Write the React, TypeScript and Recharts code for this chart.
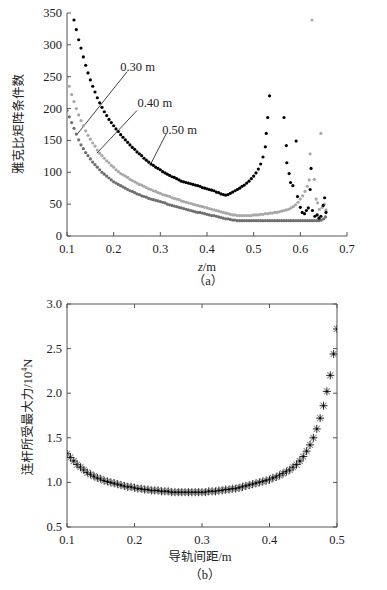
import React from 'react';
import { ScatterChart, Scatter, XAxis, YAxis, ReferenceLine, ReferenceDot } from 'recharts';

// ---- (a) Jacobian condition number vs z, three rail gaps ----
const zGrid = [
  0.100, 0.105, 0.110, 0.115, 0.120, 0.125, 0.130, 0.135, 0.140, 0.145,
  0.150, 0.155, 0.160, 0.165, 0.170, 0.175, 0.180, 0.185, 0.190, 0.195,
  0.200, 0.205, 0.210, 0.215, 0.220, 0.225, 0.230, 0.235, 0.240, 0.245,
  0.250, 0.255, 0.260, 0.265, 0.270, 0.275, 0.280, 0.285, 0.290, 0.295,
  0.300, 0.305, 0.310, 0.315, 0.320, 0.325, 0.330, 0.335, 0.340, 0.345,
  0.350, 0.355, 0.360, 0.365, 0.370, 0.375, 0.380, 0.385, 0.390, 0.395,
  0.400, 0.405, 0.410, 0.415, 0.420, 0.425, 0.430, 0.435, 0.440, 0.445,
  0.450, 0.455, 0.460, 0.465, 0.470, 0.475, 0.480, 0.485, 0.490, 0.495,
  0.500, 0.505, 0.510, 0.515, 0.520, 0.525, 0.530, 0.535, 0.540, 0.545,
  0.550, 0.555, 0.560, 0.565, 0.570, 0.575, 0.580, 0.585, 0.590, 0.595,
  0.600, 0.605, 0.610, 0.615, 0.620, 0.625, 0.630, 0.635, 0.640, 0.645,
];

const cond030 = [
  null, null, null, 339, 324, 308, 295, 281, 268, 256,
  245, 235, 226, 217, 209, 202, 195, 189, 183, 178,
  173, 168, 164, 159, 155, 151, 147, 143, 139, 136,
  132, 129, 126, 122, 119, 116, 113, 111, 108, 106,
  104, 101, 99, 97, 95, 93, 92, 90, 88, 86,
  85, 84, 83, 82, 81, 80, 79, 78, 76, 75,
  74, 73, 72, 71, 69, 68, 66, 65, 64, 65,
  67, 69, 71, 73, 75, 78, 80, 83, 86, 90,
  94, 99, 105, 113, 124, null, null, null, null, null,
  null, null, null, null, null, null, null, null, null, null,
  null, null, null, null, null, null, null, null, null, null,
];

const cond040 = [
  248, 235, 222, 211, 200, 190, 181, 173, 165, 158,
  152, 146, 141, 135, 130, 126, 122, 118, 115, 111,
  108, 104, 101, 98, 96, 94, 92, 89, 87, 85,
  83, 81, 80, 78, 76, 74, 73, 71, 70, 68,
  67, 65, 64, 63, 62, 60, 59, 58, 57, 55,
  54, 53, 52, 51, 50, 49, 48, 47, 46, 45,
  44, 43, 42, 41, 40, 39, 38, 37, 36, 35,
  34, 33, 33, 32, 32, 32, 32, 32, 32, 32,
  33, 33, 33, 34, 34, 35, 35, 36, 36, 37,
  37, 38, 39, 40, 41, 42, 44, 46, 49, 53,
  58, 63, 70, 78, null, null, null, null, null, null,
];

const cond050 = [
  197, 187, 178, 169, 160, 151, 143, 137, 131, 126,
  121, 116, 112, 108, 104, 100, 97, 94, 91, 88,
  85, 83, 81, 79, 77, 75, 73, 71, 70, 68,
  66, 65, 63, 62, 61, 59, 58, 57, 56, 55,
  54, 53, 52, 50, 49, 48, 47, 46, 45, 44,
  43, 42, 41, 40, 39, 38, 37, 37, 36, 35,
  34, 33, 32, 32, 31, 30, 29, 28, 27, 27,
  26, 25, 25, 24, 24, 24, 24, 24, 24, 24,
  24, 24, 24, 24, 24, 24, 24, 24, 24, 24,
  24, 24, 24, 24, 24, 24, 24, 24, 24, 24,
  24, 24, 24, 24, 24, 24, 24, 24, 24, 25,
];

// scattered points where the curves blow up near the workspace edge
const tail030 = [
  [0.525, 140], [0.527, 161], [0.530, 186], [0.534, 220], [0.565, 186],
  [0.570, 142], [0.591, 149], [0.571, 115], [0.576, 98], [0.579, 84],
  [0.584, 79], [0.594, 62], [0.600, 45], [0.604, 37], [0.609, 35],
  [0.613, 40], [0.617, 44], [0.621, 73], [0.623, 106], [0.626, 40],
  [0.631, 31], [0.636, 33], [0.640, 28], [0.644, 31], [0.649, 48],
  [0.652, 60], [0.655, 37],
];
const tail040 = [
  [0.619, 88], [0.621, 129], [0.625, 339], [0.630, 89], [0.634, 58],
  [0.637, 52], [0.641, 42], [0.644, 161], [0.647, 45], [0.651, 50],
  [0.655, 41],
];
const tail050 = [[0.650, 27], [0.654, 30]];

const zTicks = [0.1, 0.2, 0.3, 0.4, 0.5, 0.6, 0.7];
const condTicks = [0, 50, 100, 150, 200, 250, 300, 350];

// callout labels: text anchor, leader start, leader end (data units)
const calloutText = ['0.30 m', '0.40 m', '0.50 m'];
const calloutAt = [[0.214, 266], [0.251, 208], [0.304, 167]];
const leaderFrom = [[0.229, 258], [0.250, 197], [0.313, 161]];
const leaderTo = [[0.120, 158], [0.164, 130], [0.278, 111]];

// ---- (b) max rod force vs rail gap ----
const gapGrid = [
  0.100, 0.105, 0.110, 0.115, 0.120, 0.125, 0.130, 0.135, 0.140, 0.145,
  0.150, 0.155, 0.160, 0.165, 0.170, 0.175, 0.180, 0.185, 0.190, 0.195,
  0.200, 0.205, 0.210, 0.215, 0.220, 0.225, 0.230, 0.235, 0.240, 0.245,
  0.250, 0.255, 0.260, 0.265, 0.270, 0.275, 0.280, 0.285, 0.290, 0.295,
  0.300, 0.305, 0.310, 0.315, 0.320, 0.325, 0.330, 0.335, 0.340, 0.345,
  0.350, 0.355, 0.360, 0.365, 0.370, 0.375, 0.380, 0.385, 0.390, 0.395,
  0.400, 0.405, 0.410, 0.415, 0.420, 0.425, 0.430, 0.435, 0.440, 0.445,
  0.450, 0.455, 0.460, 0.465, 0.470, 0.475, 0.480, 0.485, 0.490, 0.495,
  0.500,
];
const maxForce = [
  1.32, 1.28, 1.24, 1.20, 1.17, 1.14, 1.11, 1.09, 1.07, 1.05,
  1.04, 1.02, 1.01, 1.00, 0.99, 0.98, 0.97, 0.96, 0.95, 0.95,
  0.94, 0.93, 0.93, 0.92, 0.92, 0.91, 0.91, 0.91, 0.90, 0.90,
  0.90, 0.89, 0.89, 0.89, 0.89, 0.89, 0.89, 0.89, 0.89, 0.89,
  0.89, 0.89, 0.90, 0.90, 0.90, 0.91, 0.91, 0.92, 0.92, 0.93,
  0.93, 0.94, 0.95, 0.96, 0.97, 0.98, 0.99, 1.00, 1.01, 1.02,
  1.03, 1.05, 1.06, 1.08, 1.10, 1.12, 1.14, 1.17, 1.20, 1.24,
  1.29, 1.35, 1.42, 1.50, 1.60, 1.72, 1.86, 2.02, 2.20, 2.44,
  2.72,
];
const gapTicks = [0.1, 0.2, 0.3, 0.4, 0.5];
const forceTicks = [0.5, 1.0, 1.5, 2.0, 2.5, 3.0];

const SERIF = '"Liberation Serif", "Times New Roman", "Noto Sans CJK SC", serif';
const AXIS = '#555';
const INK = '#222';

const toPoints = (xs: number[], ys: (number | null)[]) =>
  xs.map((x, i) => ({ x, y: ys[i] })).filter((p) => p.y != null);
const pairs = (list: number[][]) => list.map(([x, y]) => ({ x, y }));

const dot = (color: string) => (p: any) => <circle cx={p.cx} cy={p.cy} r={1.6} fill={color} />;
const nothing = () => <g />;

function Asterisk(p: any) {
  const { cx, cy } = p;
  const r = 4;
  const d = 3;
  return (
    <g>
      <line x1={cx - d} y1={cy - d} x2={cx + d} y2={cy + d} stroke="#8a8a8a" strokeWidth={1.1} />
      <line x1={cx - d} y1={cy + d} x2={cx + d} y2={cy - d} stroke="#8a8a8a" strokeWidth={1.1} />
      <line x1={cx - r} y1={cy} x2={cx + r} y2={cy} stroke="#111" strokeWidth={0.9} />
      <line x1={cx} y1={cy - r} x2={cx} y2={cy + r} stroke="#111" strokeWidth={0.9} />
      <circle cx={cx} cy={cy} r={1} fill="#000" />
    </g>
  );
}

// inward tick marks
const bottomTick = (digits: number) => (p: any) => (
  <g>
    <line x1={p.x} y1={p.y} x2={p.x} y2={p.y - 4} stroke={AXIS} />
    <text x={p.x} y={p.y + 13} textAnchor="middle" dominantBaseline="central" fontFamily={SERIF} fontSize={12.5} fill={INK}>
      {Number(p.payload.value).toFixed(digits)}
    </text>
  </g>
);
const topTick = (p: any) => <line x1={p.x} y1={p.y} x2={p.x} y2={p.y + 4} stroke={AXIS} />;
const leftTick = (digits: number) => (p: any) => (
  <g>
    <line x1={p.x} y1={p.y} x2={p.x + 4} y2={p.y} stroke={AXIS} />
    <text x={p.x - 5} y={p.y} textAnchor="end" dominantBaseline="central" fontFamily={SERIF} fontSize={12.5} fill={INK}>
      {Number(p.payload.value).toFixed(digits)}
    </text>
  </g>
);
const rightTick = (p: any) => <line x1={p.x} y1={p.y} x2={p.x - 4} y2={p.y} stroke={AXIS} />;

const title = (left: number, top: number, rotate = false): React.CSSProperties => ({
  position: 'absolute',
  left,
  top,
  transform: `translate(-50%, -50%)${rotate ? ' rotate(-90deg)' : ''}`,
  whiteSpace: 'nowrap',
  fontFamily: SERIF,
  fontSize: 12.5,
  color: INK,
  lineHeight: 1,
});

export default function App() {
  const s030 = [...toPoints(zGrid, cond030), ...pairs(tail030)];
  const s040 = [...toPoints(zGrid, cond040), ...pairs(tail040)];
  const s050 = [...toPoints(zGrid, cond050), ...pairs(tail050)];
  const force = toPoints(gapGrid, maxForce);

  return (
    <div style={{ position: 'absolute', left: 0, top: 0, width: 387, height: 590, background: '#fff' }}>
      {/* (a) */}
      <div style={{ position: 'absolute', left: 0, top: 0 }}>
        <ScatterChart width={387} height={290} margin={{ top: 13, right: 40, bottom: 34, left: 27 }}>
          <XAxis
            type="number"
            dataKey="x"
            domain={[0.1, 0.7]}
            ticks={zTicks}
            interval={0}
            height={20}
            tickLine={false}
            tickSize={0}
            tickMargin={0}
            axisLine={{ stroke: AXIS }}
            tick={bottomTick(1)}
            allowDataOverflow
          />
          <YAxis
            type="number"
            dataKey="y"
            domain={[0, 350]}
            ticks={condTicks}
            interval={0}
            width={40}
            tickLine={false}
            tickSize={0}
            tickMargin={0}
            axisLine={{ stroke: AXIS }}
            tick={leftTick(0)}
            allowDataOverflow
          />
          <Scatter data={s050} fill="#6f6f6f" shape={dot('#6f6f6f')} isAnimationActive={false} />
          <Scatter data={s040} fill="#a8a8a8" shape={dot('#a8a8a8')} isAnimationActive={false} />
          <Scatter data={s030} fill="#000" shape={dot('#000')} isAnimationActive={false} />
          {calloutText.map((t, i) => (
            <ReferenceLine
              key={`l${i}`}
              segment={[
                { x: leaderFrom[i][0], y: leaderFrom[i][1] },
                { x: leaderTo[i][0], y: leaderTo[i][1] },
              ]}
              stroke="#111"
              strokeWidth={0.8}
            />
          ))}
          {calloutText.map((t, i) => (
            <ReferenceDot
              key={`t${i}`}
              x={calloutAt[i][0]}
              y={calloutAt[i][1]}
              r={0}
              shape={(p: any) => (
                <text x={p.cx} y={p.cy} dominantBaseline="central" fontFamily={SERIF} fontSize={12.5} fill={INK}>
                  {t}
                </text>
              )}
            />
          ))}
        </ScatterChart>
        <div style={title(19, 124, true)}>雅克比矩阵条件数</div>
        <div style={title(207, 267)}>
          <i>z</i>/m
        </div>
        <div style={title(208, 281)}>（a）</div>
      </div>

      {/* (b) */}
      <div style={{ position: 'absolute', left: 0, top: 290 }}>
        <ScatterChart width={387} height={300} margin={{ top: 13, right: 49, bottom: 43, left: 27 }}>
          <XAxis
            type="number"
            dataKey="x"
            domain={[0.1, 0.5]}
            ticks={gapTicks}
            interval={0}
            height={20}
            tickLine={false}
            tickSize={0}
            tickMargin={0}
            axisLine={{ stroke: AXIS }}
            tick={bottomTick(1)}
            allowDataOverflow
          />
          <XAxis
            xAxisId="top"
            orientation="top"
            type="number"
            dataKey="x"
            domain={[0.1, 0.5]}
            ticks={gapTicks}
            interval={0}
            height={1}
            tickLine={false}
            tickSize={0}
            tickMargin={0}
            axisLine={{ stroke: AXIS }}
            tick={topTick}
            allowDataOverflow
          />
          <YAxis
            type="number"
            dataKey="y"
            domain={[0.5, 3.0]}
            ticks={forceTicks}
            interval={0}
            width={40}
            tickLine={false}
            tickSize={0}
            tickMargin={0}
            axisLine={{ stroke: AXIS }}
            tick={leftTick(1)}
            allowDataOverflow
          />
          <YAxis
            yAxisId="right"
            orientation="right"
            type="number"
            dataKey="y"
            domain={[0.5, 3.0]}
            ticks={forceTicks}
            interval={0}
            width={1}
            tickLine={false}
            tickSize={0}
            tickMargin={0}
            axisLine={{ stroke: AXIS }}
            tick={rightTick}
            allowDataOverflow
          />
          {/* invisible copy so the frame axes get drawn */}
          <Scatter data={force} xAxisId="top" yAxisId="right" shape={nothing} isAnimationActive={false} />
          <Scatter data={force} fill="#222" shape={Asterisk} isAnimationActive={false} />
        </ScatterChart>
        <div style={title(28, 127, true)}>
          连杆所受最大力/10<sup style={{ fontSize: 8, verticalAlign: 'super', lineHeight: 0 }}>4</sup>N
        </div>
        <div style={title(200, 267)}>导轨间距/m</div>
        <div style={title(205, 285)}>（b）</div>
      </div>
    </div>
  );
}
